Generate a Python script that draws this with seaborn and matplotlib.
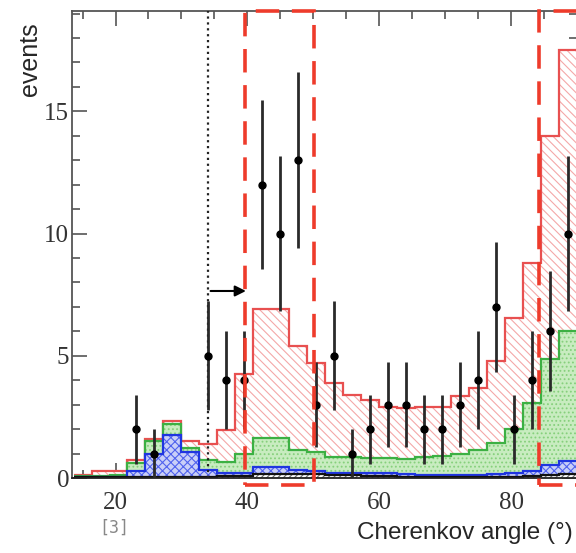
import numpy as np
import pandas as pd
import matplotlib
matplotlib.use("Agg")
import matplotlib.pyplot as plt
from matplotlib.patches import Rectangle
import seaborn as sns

# Bin edges: 33 bins over 0-90 deg, only 13.6-90 is shown
edges = np.linspace(0, 90, 34)[5:]
centers = 0.5 * (edges[:-1] + edges[1:])

# Stack tops (cumulative, bottom to top)
black_top = [0.03, 0.03, 0.04, 0.04, 0.05, 0.05, 0.05, 0.06, 0.07, 0.10, 0.15, 0.16, 0.16, 0.15,
             0.14, 0.12, 0.10, 0.08, 0.06, 0.05, 0.05, 0.05, 0.05, 0.05, 0.06, 0.08, 0.12, 0.15]
blue_top = [0.04, 0.05, 0.06, 0.30, 1.00, 1.76, 1.08, 0.33, 0.20, 0.20, 0.47, 0.47, 0.33, 0.30,
            0.22, 0.20, 0.19, 0.19, 0.15, 0.13, 0.13, 0.13, 0.13, 0.15, 0.20, 0.30, 0.55, 0.70]
green_top = [0.08, 0.10, 0.12, 0.62, 1.52, 2.20, 1.22, 0.74, 0.67, 1.00, 1.63, 1.63, 1.15, 1.08,
             0.87, 0.87, 0.80, 0.80, 0.77, 0.85, 0.90, 0.98, 1.15, 1.42, 2.02, 3.05, 4.85, 6.00]
red_top = [0.12, 0.28, 0.28, 0.72, 1.60, 2.33, 1.50, 1.38, 1.97, 4.25, 6.90, 6.90, 5.40, 4.70,
           3.87, 3.40, 3.20, 2.92, 2.86, 2.92, 2.92, 3.35, 3.68, 4.80, 6.55, 8.80, 14.0, 17.5]

# Observed events per bin
data_counts = [0, 0, 0, 2, 1, 0, 0, 5, 4, 4, 12, 10, 13, 3,
               5, 1, 2, 3, 3, 2, 2, 3, 4, 7, 2, 4, 6, 10]

sns.set_style("ticks")
plt.rcParams["font.family"] = ["Liberation Sans", "DejaVu Sans"]
plt.rcParams["hatch.linewidth"] = 0.8

fig = plt.figure(figsize=(5.76, 5.53), dpi=100)
ax = fig.add_axes([0.125, 0.1356, 0.8767, 0.8444])

layers = [
    (red_top, "white", "#f4a8a8", "\\\\\\\\", "#e85050"),
    (green_top, "#c8ecc0", "#86d07c", "....", "#3cb043"),
    (blue_top, "#c9cff8", "#5062ee", "xxxx", "#1f35e0"),
    (black_top, "white", "#666666", "//////", "#111111"),
]
df = pd.DataFrame({"angle": centers})
for top, face, hcol, hatch, lcol in layers:
    df["w"] = top
    sns.histplot(data=df, x="angle", weights="w", bins=edges.tolist(), element="step", fill=True,
                 facecolor=face, edgecolor=hcol, hatch=hatch, linewidth=0, alpha=1, ax=ax)
    ax.stairs(top, edges, baseline=None, color=lcol, lw=1.6)

# data points with sqrt(N) error bars
counts = np.array(data_counts, dtype=float)
mask = counts > 0
ax.errorbar(centers[mask], counts[mask], yerr=np.sqrt(counts[mask]), fmt="o", ms=5,
            color="black", ecolor="#2a2a2a", elinewidth=2, capsize=0, zorder=6)

# cut line with arrow
ax.axvline(34.0, color="#222222", ls=":", lw=1.6, zorder=5)
ax.annotate("", xy=(40.2, 7.65), xytext=(34.0, 7.65),
            arrowprops=dict(arrowstyle="-|>", color="black", lw=1.5, mutation_scale=16), zorder=7)

# signal windows
for x0, w in [(39.6, 10.5), (84.2, 10.0)]:
    ax.add_patch(Rectangle((x0, -0.3), w, 19.4, fill=False, ec="#ee3b2b", lw=2.6,
                           ls=(0, (6.5, 3.5)), clip_on=False, zorder=10))

ax.set_xlim(13.4, 90)
ax.set_ylim(0, 19.1)
ax.set_xticks([20, 40, 60, 80])
ax.set_xticks(np.arange(15, 90, 5), minor=True)
ax.set_yticks([0, 5, 10, 15])
ax.set_yticks(np.arange(0, 20, 1), minor=True)
ax.tick_params(which="both", direction="in", top=True, right=True, color="#555555", width=1.2)
ax.tick_params(which="major", length=11)
ax.tick_params(which="minor", length=6)
ax.tick_params(axis="x", which="major", pad=10)
ax.tick_params(axis="y", which="major", pad=2)
for lab in ax.get_xticklabels() + ax.get_yticklabels():
    lab.set_fontfamily("Liberation Serif")
    lab.set_fontsize(18)
    lab.set_color("#333333")
for side in ["left", "top", "bottom", "right"]:
    ax.spines[side].set_color("#555555")
    ax.spines[side].set_linewidth(1.3)
ax.spines["bottom"].set_color("#222222")
ax.set_xlabel("")
ax.set_ylabel("")

fig.text(30 / 576, 1 - 22 / 553, "events", rotation=90, ha="center", va="top", fontsize=18)
fig.text(573 / 576, 1 - 539 / 553, "Cherenkov angle (°)", ha="right", va="baseline", fontsize=17.5)
fig.text(99 / 576, 1 - 528 / 553, "[3]", ha="left", va="center", fontsize=12,
         family="DejaVu Sans Mono", color="#888888")

fig.savefig("out.png", dpi=100)
